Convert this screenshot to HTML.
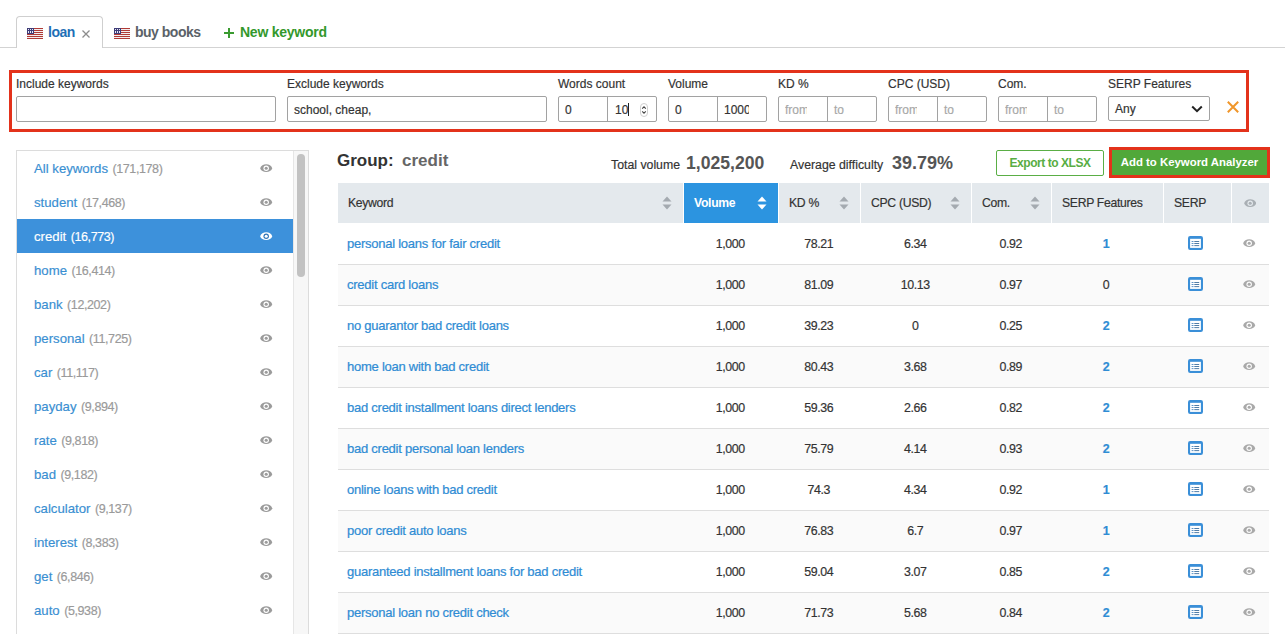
<!DOCTYPE html><html><head><meta charset="utf-8"><style>*{box-sizing:border-box;margin:0;padding:0}
html,body{width:1285px;height:634px;overflow:hidden;background:#fff;font-family:"Liberation Sans",sans-serif;color:#333}
.a{position:absolute;white-space:nowrap}
.tabline{position:absolute;left:0;top:47px;width:1285px;height:1px;background:#d3d3d3}
.tab{position:absolute;left:16px;top:16px;width:87px;height:32px;border:1px solid #cfcfcf;border-bottom:none;border-radius:4px 4px 0 0;background:#fff}
.tabt{font-size:14px;font-weight:bold;line-height:16px;letter-spacing:-0.5px}
.fbox{position:absolute;left:9px;top:70px;width:1240px;height:62px;border:3px solid #e3321b}
.lbl{position:absolute;top:77px;font-size:12px;color:#333;line-height:14px;white-space:nowrap}
.inp{position:absolute;top:96px;height:26px;border:1px solid #a2a2a2;border-radius:2px;background:#fff}
.inp .div{position:absolute;top:0;bottom:0;width:1px;background:#a2a2a2}
.it{position:absolute;top:6px;font-size:12px;line-height:14px;color:#333;white-space:nowrap}
.ph{color:#a8a8a8}
.side{position:absolute;left:16px;top:150px;width:293px;height:500px;border:1px solid #dcdcdc}
.track{position:absolute;left:276px;top:0;width:15px;height:500px;background:#f7f7f7;border-left:1px solid #e6e6e6}
.thumb{position:absolute;left:3px;top:3px;width:8px;height:123px;border-radius:4px;background:#c2c2c2}
.si{position:absolute;left:0;width:276px;height:34px}
.si .t{position:absolute;left:17px;top:11px;font-size:13.2px;line-height:14px;color:#3a8fd2;white-space:nowrap}
.si .c{color:#9a9a9a;margin-left:0.8px;font-size:12.5px;letter-spacing:-0.4px}
.si.sel{background:#3d91db}
.si.sel .t,.si.sel .c{color:#fff}
.grp{font-size:17px;font-weight:bold;line-height:20px;color:#333}
.tv{font-size:12.3px;line-height:14px;color:#333}
.tvb{font-size:17.6px;font-weight:bold;line-height:20px;color:#555}
.btnx{left:996px;top:150px;width:108px;height:26px;border:1px solid #5aae45;border-radius:2px;color:#58ad44;font-size:12px;font-weight:bold;letter-spacing:-0.45px;line-height:24px;text-align:center}
.btnadd{left:1109px;top:147px;width:161px;height:31px;border:3px solid #e3321b;background:#e3321b}
.btng{position:absolute;left:0;top:0;width:155px;height:25px;background:#51a83a;color:#fff;font-size:11.4px;font-weight:bold;line-height:25px;text-align:center}
.th{position:absolute;top:183px;height:40px;background:#e4e9ed}
.th.vol{background:#2c94e0}
.th .h{position:absolute;top:13.3px;font-size:12.2px;letter-spacing:-0.3px;line-height:14px;color:#333;white-space:nowrap}
.th.vol .h{color:#fff;font-weight:bold;letter-spacing:-0.3px}
.row{position:absolute;left:338px;width:931px;height:41px;border-bottom:1px solid #dedede}
.row.g{background:#fafafa}
.kw{position:absolute;left:9px;top:12.5px;-webkit-text-stroke-width:0.22px;font-size:13px;letter-spacing:-0.25px;line-height:14px;color:#2f8cd4;white-space:nowrap}
.num{position:absolute;top:12.5px;font-size:12.4px;letter-spacing:-0.35px;line-height:14px;color:#333;text-align:center}

.si .t,.lbl,.it,.th .h,.tv,.num{-webkit-text-stroke-width:0.18px}
.th.vol .h,.btng,.tvb,.grp,.tabt{-webkit-text-stroke-width:0}
</style></head><body>
<div class="tabline"></div><div class="tab"></div>
<svg class="a" style="left:27px;top:28px" width="16" height="11" viewBox="0 0 16 11" shape-rendering="crispEdges"><rect x="0" y="0" width="16" height="11" fill="#f4eeee"/><rect x="0" y="0" width="16" height="1" fill="#b03a36"/><rect x="0" y="2" width="16" height="1" fill="#b03a36"/><rect x="0" y="4" width="16" height="1" fill="#b03a36"/><rect x="0" y="6" width="16" height="1" fill="#b03a36"/><rect x="0" y="8" width="16" height="1" fill="#b03a36"/><rect x="0" y="10" width="16" height="1" fill="#b03a36"/><rect x="0" y="10" width="16" height="1" fill="#b03a36"/><rect x="0" y="0" width="7" height="6" fill="#3f3d78"/><rect x="1" y="1.0" width="1" height="1" fill="#e8e8f4"/><rect x="3" y="1.0" width="1" height="1" fill="#e8e8f4"/><rect x="5" y="1.0" width="1" height="1" fill="#e8e8f4"/><rect x="1" y="2.7" width="1" height="1" fill="#e8e8f4"/><rect x="3" y="2.7" width="1" height="1" fill="#e8e8f4"/><rect x="5" y="2.7" width="1" height="1" fill="#e8e8f4"/><rect x="1" y="4.4" width="1" height="1" fill="#e8e8f4"/><rect x="3" y="4.4" width="1" height="1" fill="#e8e8f4"/><rect x="5" y="4.4" width="1" height="1" fill="#e8e8f4"/></svg>
<div class="a tabt" style="left:48px;top:24px;color:#1f6fb6">loan</div>
<svg class="a" style="left:82px;top:30px" width="8" height="8" viewBox="0 0 8 8"><path d="M0.5 0.5L7.5 7.5M7.5 0.5L0.5 7.5" stroke="#8c8c8c" stroke-width="1.3"/></svg>
<svg class="a" style="left:114px;top:28px" width="16" height="11" viewBox="0 0 16 11" shape-rendering="crispEdges"><rect x="0" y="0" width="16" height="11" fill="#f4eeee"/><rect x="0" y="0" width="16" height="1" fill="#b03a36"/><rect x="0" y="2" width="16" height="1" fill="#b03a36"/><rect x="0" y="4" width="16" height="1" fill="#b03a36"/><rect x="0" y="6" width="16" height="1" fill="#b03a36"/><rect x="0" y="8" width="16" height="1" fill="#b03a36"/><rect x="0" y="10" width="16" height="1" fill="#b03a36"/><rect x="0" y="10" width="16" height="1" fill="#b03a36"/><rect x="0" y="0" width="7" height="6" fill="#3f3d78"/><rect x="1" y="1.0" width="1" height="1" fill="#e8e8f4"/><rect x="3" y="1.0" width="1" height="1" fill="#e8e8f4"/><rect x="5" y="1.0" width="1" height="1" fill="#e8e8f4"/><rect x="1" y="2.7" width="1" height="1" fill="#e8e8f4"/><rect x="3" y="2.7" width="1" height="1" fill="#e8e8f4"/><rect x="5" y="2.7" width="1" height="1" fill="#e8e8f4"/><rect x="1" y="4.4" width="1" height="1" fill="#e8e8f4"/><rect x="3" y="4.4" width="1" height="1" fill="#e8e8f4"/><rect x="5" y="4.4" width="1" height="1" fill="#e8e8f4"/></svg>
<div class="a tabt" style="left:135px;top:24px;color:#5b6268">buy books</div>
<svg class="a" style="left:224px;top:28px" width="10" height="10" viewBox="0 0 10 10"><path d="M5 0V10M0 5H10" stroke="#3a9b30" stroke-width="2"/></svg>
<div class="a tabt" style="left:240px;top:24px;color:#33982c;letter-spacing:-0.25px">New keyword</div>
<div class="fbox"></div>
<div class="lbl" style="left:16px">Include keywords</div>
<div class="lbl" style="left:287px">Exclude keywords</div>
<div class="lbl" style="left:558px">Words count</div>
<div class="lbl" style="left:668px">Volume</div>
<div class="lbl" style="left:778px">KD %</div>
<div class="lbl" style="left:888px">CPC (USD)</div>
<div class="lbl" style="left:998px">Com.</div>
<div class="lbl" style="left:1108px">SERP Features</div>
<div class="inp" style="left:16px;width:260px"></div>
<div class="inp" style="left:287px;width:260px"><div class="it" style="left:6px">school, cheap,</div></div>
<div class="inp" style="left:558px;width:99px"><div class="div" style="left:48px"></div><div class="it" style="left:6px">0</div><div class="it" style="left:56px">10<span style="display:inline-block;width:1px;height:13px;background:#222;vertical-align:-2px"></span></div><div class="a" style="left:80.5px;top:5.5px;width:8.5px;height:14px;border:1px solid #d0d0d0;border-radius:4px"></div><svg class="a" style="left:82px;top:8px" width="6" height="10" viewBox="0 0 6 10"><path d="M1.2 3.6L3 1.8L4.8 3.6M1.2 6.4L3 8.2L4.8 6.4" stroke="#444" stroke-width="1.1" fill="none"/></svg></div>
<div class="inp" style="left:668px;width:99px"><div class="div" style="left:48px"></div><div class="it" style="left:6px">0</div><div class="it" style="left:55px">100<span style="display:inline-block;width:5px;overflow:hidden;vertical-align:top">0</span></div></div>
<div class="inp" style="left:778px;width:99px"><div class="div" style="left:48px"></div><div class="it ph" style="left:6px"><span style="display:inline-block;width:22px;overflow:hidden;vertical-align:top">from</span></div><div class="it ph" style="left:55px">to</div></div>
<div class="inp" style="left:888px;width:99px"><div class="div" style="left:48px"></div><div class="it ph" style="left:6px"><span style="display:inline-block;width:22px;overflow:hidden;vertical-align:top">from</span></div><div class="it ph" style="left:55px">to</div></div>
<div class="inp" style="left:998px;width:99px"><div class="div" style="left:48px"></div><div class="it ph" style="left:6px"><span style="display:inline-block;width:22px;overflow:hidden;vertical-align:top">from</span></div><div class="it ph" style="left:55px">to</div></div>
<div class="inp" style="left:1108px;width:102px;top:96px;height:25px"><div class="it" style="left:6px;top:5px">Any</div><svg class="a" style="left:82px;top:8px" width="12" height="8" viewBox="0 0 12 8"><path d="M1.2 1.5L6 6.2L10.8 1.5" stroke="#222" stroke-width="2" fill="none"/></svg></div>
<svg class="a" style="left:1227px;top:101px" width="12" height="12" viewBox="0 0 12 12"><path d="M0.8 0.8L11.2 11.2M11.2 0.8L0.8 11.2" stroke="#f0962a" stroke-width="2"/></svg>
<div class="side">
<div class="si" style="top:0px"><div class="t">All keywords <span class="c">(171,178)</span></div></div>
<svg class="a" style="left:243.40px;top:13.40px" width="12.4" height="8.4" viewBox="0 0 12.4 8.4"><path d="M0.1 4.2 C1.6 -0.9 10.8 -0.9 12.3 4.2 C10.8 9.3 1.6 9.3 0.1 4.2Z" fill="#9b9b9b"/><circle cx="6.2" cy="4.2" r="2.75" fill="#fff"/><circle cx="6.2" cy="4.2" r="1.55" fill="#9b9b9b"/></svg>
<div class="si" style="top:34px"><div class="t">student <span class="c">(17,468)</span></div></div>
<svg class="a" style="left:243.40px;top:47.40px" width="12.4" height="8.4" viewBox="0 0 12.4 8.4"><path d="M0.1 4.2 C1.6 -0.9 10.8 -0.9 12.3 4.2 C10.8 9.3 1.6 9.3 0.1 4.2Z" fill="#9b9b9b"/><circle cx="6.2" cy="4.2" r="2.75" fill="#fff"/><circle cx="6.2" cy="4.2" r="1.55" fill="#9b9b9b"/></svg>
<div class="si sel" style="top:68px"><div class="t">credit <span class="c">(16,773)</span></div></div>
<svg class="a" style="left:243.40px;top:81.40px" width="12.4" height="8.4" viewBox="0 0 12.4 8.4"><path d="M0.1 4.2 C1.6 -0.9 10.8 -0.9 12.3 4.2 C10.8 9.3 1.6 9.3 0.1 4.2Z" fill="#fff"/><circle cx="6.2" cy="4.2" r="2.75" fill="#2f74b8"/><circle cx="6.2" cy="4.2" r="1.55" fill="#fff"/></svg>
<div class="si" style="top:102px"><div class="t">home <span class="c">(16,414)</span></div></div>
<svg class="a" style="left:243.40px;top:115.40px" width="12.4" height="8.4" viewBox="0 0 12.4 8.4"><path d="M0.1 4.2 C1.6 -0.9 10.8 -0.9 12.3 4.2 C10.8 9.3 1.6 9.3 0.1 4.2Z" fill="#9b9b9b"/><circle cx="6.2" cy="4.2" r="2.75" fill="#fff"/><circle cx="6.2" cy="4.2" r="1.55" fill="#9b9b9b"/></svg>
<div class="si" style="top:136px"><div class="t">bank <span class="c">(12,202)</span></div></div>
<svg class="a" style="left:243.40px;top:149.40px" width="12.4" height="8.4" viewBox="0 0 12.4 8.4"><path d="M0.1 4.2 C1.6 -0.9 10.8 -0.9 12.3 4.2 C10.8 9.3 1.6 9.3 0.1 4.2Z" fill="#9b9b9b"/><circle cx="6.2" cy="4.2" r="2.75" fill="#fff"/><circle cx="6.2" cy="4.2" r="1.55" fill="#9b9b9b"/></svg>
<div class="si" style="top:170px"><div class="t">personal <span class="c">(11,725)</span></div></div>
<svg class="a" style="left:243.40px;top:183.40px" width="12.4" height="8.4" viewBox="0 0 12.4 8.4"><path d="M0.1 4.2 C1.6 -0.9 10.8 -0.9 12.3 4.2 C10.8 9.3 1.6 9.3 0.1 4.2Z" fill="#9b9b9b"/><circle cx="6.2" cy="4.2" r="2.75" fill="#fff"/><circle cx="6.2" cy="4.2" r="1.55" fill="#9b9b9b"/></svg>
<div class="si" style="top:204px"><div class="t">car <span class="c">(11,117)</span></div></div>
<svg class="a" style="left:243.40px;top:217.40px" width="12.4" height="8.4" viewBox="0 0 12.4 8.4"><path d="M0.1 4.2 C1.6 -0.9 10.8 -0.9 12.3 4.2 C10.8 9.3 1.6 9.3 0.1 4.2Z" fill="#9b9b9b"/><circle cx="6.2" cy="4.2" r="2.75" fill="#fff"/><circle cx="6.2" cy="4.2" r="1.55" fill="#9b9b9b"/></svg>
<div class="si" style="top:238px"><div class="t">payday <span class="c">(9,894)</span></div></div>
<svg class="a" style="left:243.40px;top:251.40px" width="12.4" height="8.4" viewBox="0 0 12.4 8.4"><path d="M0.1 4.2 C1.6 -0.9 10.8 -0.9 12.3 4.2 C10.8 9.3 1.6 9.3 0.1 4.2Z" fill="#9b9b9b"/><circle cx="6.2" cy="4.2" r="2.75" fill="#fff"/><circle cx="6.2" cy="4.2" r="1.55" fill="#9b9b9b"/></svg>
<div class="si" style="top:272px"><div class="t">rate <span class="c">(9,818)</span></div></div>
<svg class="a" style="left:243.40px;top:285.40px" width="12.4" height="8.4" viewBox="0 0 12.4 8.4"><path d="M0.1 4.2 C1.6 -0.9 10.8 -0.9 12.3 4.2 C10.8 9.3 1.6 9.3 0.1 4.2Z" fill="#9b9b9b"/><circle cx="6.2" cy="4.2" r="2.75" fill="#fff"/><circle cx="6.2" cy="4.2" r="1.55" fill="#9b9b9b"/></svg>
<div class="si" style="top:306px"><div class="t">bad <span class="c">(9,182)</span></div></div>
<svg class="a" style="left:243.40px;top:319.40px" width="12.4" height="8.4" viewBox="0 0 12.4 8.4"><path d="M0.1 4.2 C1.6 -0.9 10.8 -0.9 12.3 4.2 C10.8 9.3 1.6 9.3 0.1 4.2Z" fill="#9b9b9b"/><circle cx="6.2" cy="4.2" r="2.75" fill="#fff"/><circle cx="6.2" cy="4.2" r="1.55" fill="#9b9b9b"/></svg>
<div class="si" style="top:340px"><div class="t">calculator <span class="c">(9,137)</span></div></div>
<svg class="a" style="left:243.40px;top:353.40px" width="12.4" height="8.4" viewBox="0 0 12.4 8.4"><path d="M0.1 4.2 C1.6 -0.9 10.8 -0.9 12.3 4.2 C10.8 9.3 1.6 9.3 0.1 4.2Z" fill="#9b9b9b"/><circle cx="6.2" cy="4.2" r="2.75" fill="#fff"/><circle cx="6.2" cy="4.2" r="1.55" fill="#9b9b9b"/></svg>
<div class="si" style="top:374px"><div class="t">interest <span class="c">(8,383)</span></div></div>
<svg class="a" style="left:243.40px;top:387.40px" width="12.4" height="8.4" viewBox="0 0 12.4 8.4"><path d="M0.1 4.2 C1.6 -0.9 10.8 -0.9 12.3 4.2 C10.8 9.3 1.6 9.3 0.1 4.2Z" fill="#9b9b9b"/><circle cx="6.2" cy="4.2" r="2.75" fill="#fff"/><circle cx="6.2" cy="4.2" r="1.55" fill="#9b9b9b"/></svg>
<div class="si" style="top:408px"><div class="t">get <span class="c">(6,846)</span></div></div>
<svg class="a" style="left:243.40px;top:421.40px" width="12.4" height="8.4" viewBox="0 0 12.4 8.4"><path d="M0.1 4.2 C1.6 -0.9 10.8 -0.9 12.3 4.2 C10.8 9.3 1.6 9.3 0.1 4.2Z" fill="#9b9b9b"/><circle cx="6.2" cy="4.2" r="2.75" fill="#fff"/><circle cx="6.2" cy="4.2" r="1.55" fill="#9b9b9b"/></svg>
<div class="si" style="top:442px"><div class="t">auto <span class="c">(5,938)</span></div></div>
<svg class="a" style="left:243.40px;top:455.40px" width="12.4" height="8.4" viewBox="0 0 12.4 8.4"><path d="M0.1 4.2 C1.6 -0.9 10.8 -0.9 12.3 4.2 C10.8 9.3 1.6 9.3 0.1 4.2Z" fill="#9b9b9b"/><circle cx="6.2" cy="4.2" r="2.75" fill="#fff"/><circle cx="6.2" cy="4.2" r="1.55" fill="#9b9b9b"/></svg>
<div class="si" style="top:476px"><div class="t">loans <span class="c">(5,000)</span></div></div>
<svg class="a" style="left:243.40px;top:489.40px" width="12.4" height="8.4" viewBox="0 0 12.4 8.4"><path d="M0.1 4.2 C1.6 -0.9 10.8 -0.9 12.3 4.2 C10.8 9.3 1.6 9.3 0.1 4.2Z" fill="#9b9b9b"/><circle cx="6.2" cy="4.2" r="2.75" fill="#fff"/><circle cx="6.2" cy="4.2" r="1.55" fill="#9b9b9b"/></svg>
<div class="track"><div class="thumb"></div></div>
</div>
<div class="a grp" style="left:337px;top:151px">Group:</div>
<div class="a grp" style="left:402px;top:151px;color:#666">credit</div>
<div class="a tv" style="left:611px;top:158px">Total volume</div>
<div class="a tvb" style="left:686px;top:153px">1,025,200</div>
<div class="a tv" style="left:790px;top:158px">Average difficulty</div>
<div class="a tvb" style="left:892px;top:153px;font-size:18px">39.79%</div>
<div class="a btnx">Export to XLSX</div>
<div class="a btnadd"><div class="btng">Add to Keyword Analyzer</div></div>
<div class="th" style="left:338px;width:345px"><div class="h" style="left:10px">Keyword</div></div>
<svg class="a" style="left:662px;top:196px" width="10" height="14" viewBox="0 0 10 14"><path d="M5 0.5 L9.5 5.5 H0.5Z" fill="#a4aab0"/><path d="M5 13.5 L9.5 8.5 H0.5Z" fill="#a4aab0"/></svg>
<div class="th vol" style="left:684px;width:94px"><div class="h" style="left:10px">Volume</div></div>
<svg class="a" style="left:757px;top:196px" width="10" height="14" viewBox="0 0 10 14"><path d="M5 0.5 L9.5 5.5 H0.5Z" fill="#fff"/><path d="M5 13.5 L9.5 8.5 H0.5Z" fill="#fff"/></svg>
<div class="th" style="left:779px;width:81px"><div class="h" style="left:10px">KD %</div></div>
<svg class="a" style="left:839px;top:196px" width="10" height="14" viewBox="0 0 10 14"><path d="M5 0.5 L9.5 5.5 H0.5Z" fill="#a4aab0"/><path d="M5 13.5 L9.5 8.5 H0.5Z" fill="#a4aab0"/></svg>
<div class="th" style="left:861px;width:110px"><div class="h" style="left:10px">CPC (USD)</div></div>
<svg class="a" style="left:950px;top:196px" width="10" height="14" viewBox="0 0 10 14"><path d="M5 0.5 L9.5 5.5 H0.5Z" fill="#a4aab0"/><path d="M5 13.5 L9.5 8.5 H0.5Z" fill="#a4aab0"/></svg>
<div class="th" style="left:972px;width:79px"><div class="h" style="left:10px">Com.</div></div>
<svg class="a" style="left:1030px;top:196px" width="10" height="14" viewBox="0 0 10 14"><path d="M5 0.5 L9.5 5.5 H0.5Z" fill="#a4aab0"/><path d="M5 13.5 L9.5 8.5 H0.5Z" fill="#a4aab0"/></svg>
<div class="th" style="left:1052px;width:111px"><div class="h" style="left:10px">SERP Features</div></div>
<div class="th" style="left:1164px;width:67px"><div class="h" style="left:10px">SERP</div></div>
<div class="th" style="left:1232px;width:37px"><div class="h" style="left:10px"></div></div>
<svg class="a" style="left:1243.80px;top:198.80px" width="12.4" height="8.4" viewBox="0 0 12.4 8.4"><path d="M0.1 4.2 C1.6 -0.9 10.8 -0.9 12.3 4.2 C10.8 9.3 1.6 9.3 0.1 4.2Z" fill="#a9afb4"/><circle cx="6.2" cy="4.2" r="2.75" fill="#e4e9ed"/><circle cx="6.2" cy="4.2" r="1.55" fill="#a9afb4"/></svg>
<div class="row" style="top:224px">
<div class="kw">personal loans for fair credit</div>
<div class="num" style="left:345.3px;width:94px">1,000</div>
<div class="num" style="left:440.3px;width:81px">78.21</div>
<div class="num" style="left:522.3px;width:110px">6.34</div>
<div class="num" style="left:633.3px;width:79px">0.92</div>
<div class="num" style="left:712.5px;width:111px;color:#2f8cd4;font-weight:bold">1</div>
</div>
<svg class="a" style="left:1188px;top:236.1px" width="15" height="14" viewBox="0 0 15 14"><rect x="0" y="0" width="15" height="14" rx="2.2" fill="#3a8fd8"/><rect x="2.1" y="2.8" width="10.8" height="9.1" fill="#fff"/><rect x="3.6" y="5.0" width="1.9" height="0.9" fill="#4a86c0"/><rect x="6.3" y="5.0" width="4.9" height="0.9" fill="#3d6f9e"/><rect x="3.6" y="7.1" width="1.9" height="0.9" fill="#4a86c0"/><rect x="6.3" y="7.1" width="4.9" height="0.9" fill="#3d6f9e"/><rect x="3.6" y="9.2" width="1.9" height="0.9" fill="#4a86c0"/><rect x="6.3" y="9.2" width="4.9" height="0.9" fill="#3d6f9e"/></svg>
<svg class="a" style="left:1243.20px;top:239.20px" width="12.4" height="8.4" viewBox="0 0 12.4 8.4"><path d="M0.1 4.2 C1.6 -0.9 10.8 -0.9 12.3 4.2 C10.8 9.3 1.6 9.3 0.1 4.2Z" fill="#a9a9a9"/><circle cx="6.2" cy="4.2" r="2.75" fill="#fff"/><circle cx="6.2" cy="4.2" r="1.55" fill="#a9a9a9"/></svg>
<div class="row g" style="top:265px">
<div class="kw">credit card loans</div>
<div class="num" style="left:345.3px;width:94px">1,000</div>
<div class="num" style="left:440.3px;width:81px">81.09</div>
<div class="num" style="left:522.3px;width:110px">10.13</div>
<div class="num" style="left:633.3px;width:79px">0.97</div>
<div class="num" style="left:712.5px;width:111px;color:#333">0</div>
</div>
<svg class="a" style="left:1188px;top:277.1px" width="15" height="14" viewBox="0 0 15 14"><rect x="0" y="0" width="15" height="14" rx="2.2" fill="#3a8fd8"/><rect x="2.1" y="2.8" width="10.8" height="9.1" fill="#fff"/><rect x="3.6" y="5.0" width="1.9" height="0.9" fill="#4a86c0"/><rect x="6.3" y="5.0" width="4.9" height="0.9" fill="#3d6f9e"/><rect x="3.6" y="7.1" width="1.9" height="0.9" fill="#4a86c0"/><rect x="6.3" y="7.1" width="4.9" height="0.9" fill="#3d6f9e"/><rect x="3.6" y="9.2" width="1.9" height="0.9" fill="#4a86c0"/><rect x="6.3" y="9.2" width="4.9" height="0.9" fill="#3d6f9e"/></svg>
<svg class="a" style="left:1243.20px;top:280.20px" width="12.4" height="8.4" viewBox="0 0 12.4 8.4"><path d="M0.1 4.2 C1.6 -0.9 10.8 -0.9 12.3 4.2 C10.8 9.3 1.6 9.3 0.1 4.2Z" fill="#a9a9a9"/><circle cx="6.2" cy="4.2" r="2.75" fill="#fafafa"/><circle cx="6.2" cy="4.2" r="1.55" fill="#a9a9a9"/></svg>
<div class="row" style="top:306px">
<div class="kw">no guarantor bad credit loans</div>
<div class="num" style="left:345.3px;width:94px">1,000</div>
<div class="num" style="left:440.3px;width:81px">39.23</div>
<div class="num" style="left:522.3px;width:110px">0</div>
<div class="num" style="left:633.3px;width:79px">0.25</div>
<div class="num" style="left:712.5px;width:111px;color:#2f8cd4;font-weight:bold">2</div>
</div>
<svg class="a" style="left:1188px;top:318.1px" width="15" height="14" viewBox="0 0 15 14"><rect x="0" y="0" width="15" height="14" rx="2.2" fill="#3a8fd8"/><rect x="2.1" y="2.8" width="10.8" height="9.1" fill="#fff"/><rect x="3.6" y="5.0" width="1.9" height="0.9" fill="#4a86c0"/><rect x="6.3" y="5.0" width="4.9" height="0.9" fill="#3d6f9e"/><rect x="3.6" y="7.1" width="1.9" height="0.9" fill="#4a86c0"/><rect x="6.3" y="7.1" width="4.9" height="0.9" fill="#3d6f9e"/><rect x="3.6" y="9.2" width="1.9" height="0.9" fill="#4a86c0"/><rect x="6.3" y="9.2" width="4.9" height="0.9" fill="#3d6f9e"/></svg>
<svg class="a" style="left:1243.20px;top:321.20px" width="12.4" height="8.4" viewBox="0 0 12.4 8.4"><path d="M0.1 4.2 C1.6 -0.9 10.8 -0.9 12.3 4.2 C10.8 9.3 1.6 9.3 0.1 4.2Z" fill="#a9a9a9"/><circle cx="6.2" cy="4.2" r="2.75" fill="#fff"/><circle cx="6.2" cy="4.2" r="1.55" fill="#a9a9a9"/></svg>
<div class="row g" style="top:347px">
<div class="kw">home loan with bad credit</div>
<div class="num" style="left:345.3px;width:94px">1,000</div>
<div class="num" style="left:440.3px;width:81px">80.43</div>
<div class="num" style="left:522.3px;width:110px">3.68</div>
<div class="num" style="left:633.3px;width:79px">0.89</div>
<div class="num" style="left:712.5px;width:111px;color:#2f8cd4;font-weight:bold">2</div>
</div>
<svg class="a" style="left:1188px;top:359.1px" width="15" height="14" viewBox="0 0 15 14"><rect x="0" y="0" width="15" height="14" rx="2.2" fill="#3a8fd8"/><rect x="2.1" y="2.8" width="10.8" height="9.1" fill="#fff"/><rect x="3.6" y="5.0" width="1.9" height="0.9" fill="#4a86c0"/><rect x="6.3" y="5.0" width="4.9" height="0.9" fill="#3d6f9e"/><rect x="3.6" y="7.1" width="1.9" height="0.9" fill="#4a86c0"/><rect x="6.3" y="7.1" width="4.9" height="0.9" fill="#3d6f9e"/><rect x="3.6" y="9.2" width="1.9" height="0.9" fill="#4a86c0"/><rect x="6.3" y="9.2" width="4.9" height="0.9" fill="#3d6f9e"/></svg>
<svg class="a" style="left:1243.20px;top:362.20px" width="12.4" height="8.4" viewBox="0 0 12.4 8.4"><path d="M0.1 4.2 C1.6 -0.9 10.8 -0.9 12.3 4.2 C10.8 9.3 1.6 9.3 0.1 4.2Z" fill="#a9a9a9"/><circle cx="6.2" cy="4.2" r="2.75" fill="#fafafa"/><circle cx="6.2" cy="4.2" r="1.55" fill="#a9a9a9"/></svg>
<div class="row" style="top:388px">
<div class="kw">bad credit installment loans direct lenders</div>
<div class="num" style="left:345.3px;width:94px">1,000</div>
<div class="num" style="left:440.3px;width:81px">59.36</div>
<div class="num" style="left:522.3px;width:110px">2.66</div>
<div class="num" style="left:633.3px;width:79px">0.82</div>
<div class="num" style="left:712.5px;width:111px;color:#2f8cd4;font-weight:bold">2</div>
</div>
<svg class="a" style="left:1188px;top:400.1px" width="15" height="14" viewBox="0 0 15 14"><rect x="0" y="0" width="15" height="14" rx="2.2" fill="#3a8fd8"/><rect x="2.1" y="2.8" width="10.8" height="9.1" fill="#fff"/><rect x="3.6" y="5.0" width="1.9" height="0.9" fill="#4a86c0"/><rect x="6.3" y="5.0" width="4.9" height="0.9" fill="#3d6f9e"/><rect x="3.6" y="7.1" width="1.9" height="0.9" fill="#4a86c0"/><rect x="6.3" y="7.1" width="4.9" height="0.9" fill="#3d6f9e"/><rect x="3.6" y="9.2" width="1.9" height="0.9" fill="#4a86c0"/><rect x="6.3" y="9.2" width="4.9" height="0.9" fill="#3d6f9e"/></svg>
<svg class="a" style="left:1243.20px;top:403.20px" width="12.4" height="8.4" viewBox="0 0 12.4 8.4"><path d="M0.1 4.2 C1.6 -0.9 10.8 -0.9 12.3 4.2 C10.8 9.3 1.6 9.3 0.1 4.2Z" fill="#a9a9a9"/><circle cx="6.2" cy="4.2" r="2.75" fill="#fff"/><circle cx="6.2" cy="4.2" r="1.55" fill="#a9a9a9"/></svg>
<div class="row g" style="top:429px">
<div class="kw">bad credit personal loan lenders</div>
<div class="num" style="left:345.3px;width:94px">1,000</div>
<div class="num" style="left:440.3px;width:81px">75.79</div>
<div class="num" style="left:522.3px;width:110px">4.14</div>
<div class="num" style="left:633.3px;width:79px">0.93</div>
<div class="num" style="left:712.5px;width:111px;color:#2f8cd4;font-weight:bold">2</div>
</div>
<svg class="a" style="left:1188px;top:441.1px" width="15" height="14" viewBox="0 0 15 14"><rect x="0" y="0" width="15" height="14" rx="2.2" fill="#3a8fd8"/><rect x="2.1" y="2.8" width="10.8" height="9.1" fill="#fff"/><rect x="3.6" y="5.0" width="1.9" height="0.9" fill="#4a86c0"/><rect x="6.3" y="5.0" width="4.9" height="0.9" fill="#3d6f9e"/><rect x="3.6" y="7.1" width="1.9" height="0.9" fill="#4a86c0"/><rect x="6.3" y="7.1" width="4.9" height="0.9" fill="#3d6f9e"/><rect x="3.6" y="9.2" width="1.9" height="0.9" fill="#4a86c0"/><rect x="6.3" y="9.2" width="4.9" height="0.9" fill="#3d6f9e"/></svg>
<svg class="a" style="left:1243.20px;top:444.20px" width="12.4" height="8.4" viewBox="0 0 12.4 8.4"><path d="M0.1 4.2 C1.6 -0.9 10.8 -0.9 12.3 4.2 C10.8 9.3 1.6 9.3 0.1 4.2Z" fill="#a9a9a9"/><circle cx="6.2" cy="4.2" r="2.75" fill="#fafafa"/><circle cx="6.2" cy="4.2" r="1.55" fill="#a9a9a9"/></svg>
<div class="row" style="top:470px">
<div class="kw">online loans with bad credit</div>
<div class="num" style="left:345.3px;width:94px">1,000</div>
<div class="num" style="left:440.3px;width:81px">74.3</div>
<div class="num" style="left:522.3px;width:110px">4.34</div>
<div class="num" style="left:633.3px;width:79px">0.92</div>
<div class="num" style="left:712.5px;width:111px;color:#2f8cd4;font-weight:bold">1</div>
</div>
<svg class="a" style="left:1188px;top:482.1px" width="15" height="14" viewBox="0 0 15 14"><rect x="0" y="0" width="15" height="14" rx="2.2" fill="#3a8fd8"/><rect x="2.1" y="2.8" width="10.8" height="9.1" fill="#fff"/><rect x="3.6" y="5.0" width="1.9" height="0.9" fill="#4a86c0"/><rect x="6.3" y="5.0" width="4.9" height="0.9" fill="#3d6f9e"/><rect x="3.6" y="7.1" width="1.9" height="0.9" fill="#4a86c0"/><rect x="6.3" y="7.1" width="4.9" height="0.9" fill="#3d6f9e"/><rect x="3.6" y="9.2" width="1.9" height="0.9" fill="#4a86c0"/><rect x="6.3" y="9.2" width="4.9" height="0.9" fill="#3d6f9e"/></svg>
<svg class="a" style="left:1243.20px;top:485.20px" width="12.4" height="8.4" viewBox="0 0 12.4 8.4"><path d="M0.1 4.2 C1.6 -0.9 10.8 -0.9 12.3 4.2 C10.8 9.3 1.6 9.3 0.1 4.2Z" fill="#a9a9a9"/><circle cx="6.2" cy="4.2" r="2.75" fill="#fff"/><circle cx="6.2" cy="4.2" r="1.55" fill="#a9a9a9"/></svg>
<div class="row g" style="top:511px">
<div class="kw">poor credit auto loans</div>
<div class="num" style="left:345.3px;width:94px">1,000</div>
<div class="num" style="left:440.3px;width:81px">76.83</div>
<div class="num" style="left:522.3px;width:110px">6.7</div>
<div class="num" style="left:633.3px;width:79px">0.97</div>
<div class="num" style="left:712.5px;width:111px;color:#2f8cd4;font-weight:bold">1</div>
</div>
<svg class="a" style="left:1188px;top:523.1px" width="15" height="14" viewBox="0 0 15 14"><rect x="0" y="0" width="15" height="14" rx="2.2" fill="#3a8fd8"/><rect x="2.1" y="2.8" width="10.8" height="9.1" fill="#fff"/><rect x="3.6" y="5.0" width="1.9" height="0.9" fill="#4a86c0"/><rect x="6.3" y="5.0" width="4.9" height="0.9" fill="#3d6f9e"/><rect x="3.6" y="7.1" width="1.9" height="0.9" fill="#4a86c0"/><rect x="6.3" y="7.1" width="4.9" height="0.9" fill="#3d6f9e"/><rect x="3.6" y="9.2" width="1.9" height="0.9" fill="#4a86c0"/><rect x="6.3" y="9.2" width="4.9" height="0.9" fill="#3d6f9e"/></svg>
<svg class="a" style="left:1243.20px;top:526.20px" width="12.4" height="8.4" viewBox="0 0 12.4 8.4"><path d="M0.1 4.2 C1.6 -0.9 10.8 -0.9 12.3 4.2 C10.8 9.3 1.6 9.3 0.1 4.2Z" fill="#a9a9a9"/><circle cx="6.2" cy="4.2" r="2.75" fill="#fafafa"/><circle cx="6.2" cy="4.2" r="1.55" fill="#a9a9a9"/></svg>
<div class="row" style="top:552px">
<div class="kw">guaranteed installment loans for bad credit</div>
<div class="num" style="left:345.3px;width:94px">1,000</div>
<div class="num" style="left:440.3px;width:81px">59.04</div>
<div class="num" style="left:522.3px;width:110px">3.07</div>
<div class="num" style="left:633.3px;width:79px">0.85</div>
<div class="num" style="left:712.5px;width:111px;color:#2f8cd4;font-weight:bold">2</div>
</div>
<svg class="a" style="left:1188px;top:564.1px" width="15" height="14" viewBox="0 0 15 14"><rect x="0" y="0" width="15" height="14" rx="2.2" fill="#3a8fd8"/><rect x="2.1" y="2.8" width="10.8" height="9.1" fill="#fff"/><rect x="3.6" y="5.0" width="1.9" height="0.9" fill="#4a86c0"/><rect x="6.3" y="5.0" width="4.9" height="0.9" fill="#3d6f9e"/><rect x="3.6" y="7.1" width="1.9" height="0.9" fill="#4a86c0"/><rect x="6.3" y="7.1" width="4.9" height="0.9" fill="#3d6f9e"/><rect x="3.6" y="9.2" width="1.9" height="0.9" fill="#4a86c0"/><rect x="6.3" y="9.2" width="4.9" height="0.9" fill="#3d6f9e"/></svg>
<svg class="a" style="left:1243.20px;top:567.20px" width="12.4" height="8.4" viewBox="0 0 12.4 8.4"><path d="M0.1 4.2 C1.6 -0.9 10.8 -0.9 12.3 4.2 C10.8 9.3 1.6 9.3 0.1 4.2Z" fill="#a9a9a9"/><circle cx="6.2" cy="4.2" r="2.75" fill="#fff"/><circle cx="6.2" cy="4.2" r="1.55" fill="#a9a9a9"/></svg>
<div class="row g" style="top:593px">
<div class="kw">personal loan no credit check</div>
<div class="num" style="left:345.3px;width:94px">1,000</div>
<div class="num" style="left:440.3px;width:81px">71.73</div>
<div class="num" style="left:522.3px;width:110px">5.68</div>
<div class="num" style="left:633.3px;width:79px">0.84</div>
<div class="num" style="left:712.5px;width:111px;color:#2f8cd4;font-weight:bold">2</div>
</div>
<svg class="a" style="left:1188px;top:605.1px" width="15" height="14" viewBox="0 0 15 14"><rect x="0" y="0" width="15" height="14" rx="2.2" fill="#3a8fd8"/><rect x="2.1" y="2.8" width="10.8" height="9.1" fill="#fff"/><rect x="3.6" y="5.0" width="1.9" height="0.9" fill="#4a86c0"/><rect x="6.3" y="5.0" width="4.9" height="0.9" fill="#3d6f9e"/><rect x="3.6" y="7.1" width="1.9" height="0.9" fill="#4a86c0"/><rect x="6.3" y="7.1" width="4.9" height="0.9" fill="#3d6f9e"/><rect x="3.6" y="9.2" width="1.9" height="0.9" fill="#4a86c0"/><rect x="6.3" y="9.2" width="4.9" height="0.9" fill="#3d6f9e"/></svg>
<svg class="a" style="left:1243.20px;top:608.20px" width="12.4" height="8.4" viewBox="0 0 12.4 8.4"><path d="M0.1 4.2 C1.6 -0.9 10.8 -0.9 12.3 4.2 C10.8 9.3 1.6 9.3 0.1 4.2Z" fill="#a9a9a9"/><circle cx="6.2" cy="4.2" r="2.75" fill="#fafafa"/><circle cx="6.2" cy="4.2" r="1.55" fill="#a9a9a9"/></svg>
</body></html>
